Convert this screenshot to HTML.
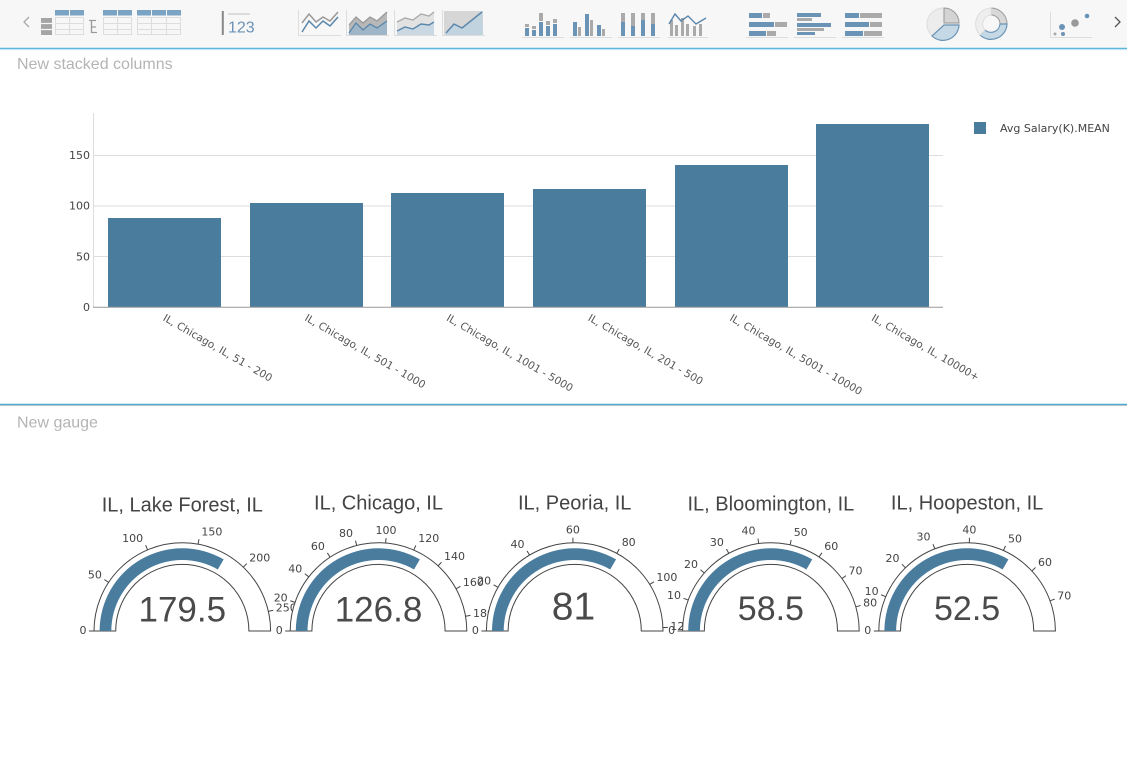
<!DOCTYPE html>
<html><head><meta charset="utf-8">
<style>
html,body{margin:0;padding:0;background:#fff;width:1127px;height:757px;overflow:hidden}
svg{display:block}
.tk{font-family:"DejaVu Sans","Liberation Sans",sans-serif;font-size:11px;fill:#444}
.xl{font-family:"DejaVu Sans","Liberation Sans",sans-serif;font-size:10.5px;fill:#555}
.gt{font-family:"Liberation Sans",sans-serif;font-size:20px;fill:#444;text-anchor:middle}
.gn{font-family:"Liberation Sans",sans-serif;fill:#4a4a4a;text-anchor:middle}
.sec{font-family:"Liberation Sans",sans-serif;font-size:16px;fill:#b4b4b4}
.bg{fill:#fff;stroke:#444;stroke-width:1}
.bar{fill:#4a7c9e}
.tl{stroke:#444;stroke-width:1}
</style></head><body>
<svg width="1127" height="757" viewBox="0 0 1127 757" xmlns="http://www.w3.org/2000/svg">
<rect x="0" y="0" width="1127" height="757" fill="#fff"/>

<!-- ===== Toolbar ===== -->
<rect x="0" y="0" width="1127" height="48" fill="#f7f7f7"/>
<line x1="0" y1="48.5" x2="1127" y2="48.5" stroke="#5fb5dc" stroke-width="1.5"/>
<line x1="0" y1="50" x2="1127" y2="50" stroke="#e3f4fb" stroke-width="1"/>

<polyline points="29,17 24,22 29,27" fill="none" stroke="#aaa" stroke-width="1.3"/>

<!-- table icon 1 -->
<rect x="41" y="18" width="11" height="17" fill="#a5a5a5"/>
<line x1="41" y1="23.5" x2="52" y2="23.5" stroke="#f7f7f7" stroke-width="1.2"/>
<line x1="41" y1="29.5" x2="52" y2="29.5" stroke="#f7f7f7" stroke-width="1.2"/>
<rect x="55" y="10" width="29" height="5.5" fill="#7ba4c4"/>
<line x1="69.5" y1="10" x2="69.5" y2="15.5" stroke="#f7f7f7"/>
<rect x="55.5" y="17.5" width="28" height="17" fill="none" stroke="#ddd"/>
<line x1="55" y1="23.5" x2="84" y2="23.5" stroke="#ddd"/>
<line x1="55" y1="29.5" x2="84" y2="29.5" stroke="#ddd"/>
<line x1="69.5" y1="17" x2="69.5" y2="35" stroke="#ddd"/>

<!-- table icon 2 -->
<line x1="91.5" y1="20" x2="91.5" y2="33" stroke="#999" stroke-width="1.3"/>
<line x1="89" y1="20.5" x2="96" y2="20.5" stroke="#999" stroke-width="1.2"/>
<line x1="91" y1="27" x2="96" y2="27" stroke="#999" stroke-width="1.2"/>
<line x1="91" y1="32.5" x2="97" y2="32.5" stroke="#999" stroke-width="1.2"/>
<rect x="103" y="10" width="29" height="5.5" fill="#7ba4c4"/>
<line x1="117.5" y1="10" x2="117.5" y2="15.5" stroke="#f7f7f7"/>
<rect x="103.5" y="17.5" width="28" height="17" fill="none" stroke="#ddd"/>
<line x1="103" y1="23.5" x2="132" y2="23.5" stroke="#ddd"/>
<line x1="103" y1="29.5" x2="132" y2="29.5" stroke="#ddd"/>
<line x1="117.5" y1="17" x2="117.5" y2="35" stroke="#ddd"/>

<!-- table icon 3 -->
<rect x="137" y="10" width="44" height="5.5" fill="#7ba4c4"/>
<line x1="151.5" y1="10" x2="151.5" y2="15.5" stroke="#f7f7f7"/>
<line x1="166.5" y1="10" x2="166.5" y2="15.5" stroke="#f7f7f7"/>
<rect x="137.5" y="17.5" width="43" height="17" fill="none" stroke="#ddd"/>
<line x1="137" y1="23.5" x2="181" y2="23.5" stroke="#ddd"/>
<line x1="137" y1="29.5" x2="181" y2="29.5" stroke="#ddd"/>
<line x1="151.5" y1="17" x2="151.5" y2="35" stroke="#ddd"/>
<line x1="166.5" y1="17" x2="166.5" y2="35" stroke="#ddd"/>

<!-- 123 -->
<line x1="222.8" y1="11" x2="222.8" y2="35" stroke="#888" stroke-width="2"/>
<line x1="228" y1="14" x2="250" y2="14" stroke="#ccc" stroke-width="1.2"/>
<text x="228" y="32.5" font-family="Liberation Sans,sans-serif" font-size="16" fill="#6b93b5">123</text>

<!-- line icons -->
<g fill="none">
<line x1="298.5" y1="10" x2="298.5" y2="36" stroke="#ddd"/>
<line x1="298" y1="35.5" x2="341" y2="35.5" stroke="#ddd"/>
<polyline points="302,23 309,14 316,22 323,17 330,21 338,12" stroke="#999" stroke-width="1.5"/>
<polyline points="302,32 309,21 316,28 323,21 330,26 338,17" stroke="#5b87ab" stroke-width="1.5"/>

<line x1="346.5" y1="10" x2="346.5" y2="36" stroke="#ddd"/>
<line x1="346" y1="35.5" x2="389" y2="35.5" stroke="#ddd"/>
</g>
<polygon points="349,25 356,17 363,23 370,17 377,21 387,12 387,35 349,35" fill="#b8b8b8"/>
<polygon points="349,33 356,23 363,30 370,24 377,28 387,21 387,35 349,35" fill="#9fb6c8"/>
<polyline points="349,33 356,23 363,30 370,24 377,28 387,21" fill="none" stroke="#5b87ab" stroke-width="1.3"/>
<polyline points="349,25 356,17 363,23 370,17 377,21 387,12" fill="none" stroke="#999" stroke-width="1.3"/>

<line x1="394.5" y1="10" x2="394.5" y2="36" stroke="#ddd"/>
<line x1="394" y1="35.5" x2="437" y2="35.5" stroke="#ddd"/>
<polygon points="397,22 405,18 413,20 421,14 429,16 434,12 434,35 397,35" fill="#e2e2e2"/>
<polygon points="397,31 405,27 413,29 421,24 429,25 434,22 434,35 397,35" fill="#c9d8e3"/>
<polyline points="397,22 405,18 413,20 421,14 429,16 434,12" fill="none" stroke="#aaa" stroke-width="1.4"/>
<polyline points="397,31 405,27 413,29 421,24 429,25 434,22" fill="none" stroke="#5b87ab" stroke-width="1.4"/>

<line x1="442.5" y1="10" x2="442.5" y2="36" stroke="#ddd"/>
<line x1="442" y1="35.5" x2="485" y2="35.5" stroke="#ddd"/>
<rect x="444" y="11" width="39" height="24" fill="#d6d6d6"/>
<polygon points="446,33 454,24 462,28 472,20 482,12 483,35 446,35" fill="#c2d3e0"/>
<polyline points="446,33 454,24 462,28 472,20 482,12" fill="none" stroke="#5b87ab" stroke-width="1.5"/>

<!-- bar icons -->
<g>
<line x1="522" y1="37.5" x2="564" y2="37.5" stroke="#ddd"/>
<rect x="525" y="28" width="4" height="8" fill="#6b93b5"/><rect x="525" y="24" width="4" height="3" fill="#aaa"/>
<rect x="532" y="30" width="4" height="6" fill="#6b93b5"/><rect x="532" y="26" width="4" height="3" fill="#aaa"/>
<rect x="539" y="22" width="4" height="14" fill="#6b93b5"/><rect x="539" y="13" width="4" height="8" fill="#aaa"/>
<rect x="546" y="26" width="4" height="10" fill="#6b93b5"/><rect x="546" y="21" width="4" height="4" fill="#aaa"/>
<rect x="553" y="24" width="4" height="12" fill="#6b93b5"/><rect x="553" y="19" width="4" height="4" fill="#aaa"/>

<line x1="570" y1="37.5" x2="612" y2="37.5" stroke="#ddd"/>
<rect x="573" y="22" width="4" height="14" fill="#6b93b5"/><rect x="578" y="27" width="3" height="9" fill="#aaa"/>
<rect x="585" y="14" width="4" height="22" fill="#6b93b5"/><rect x="590" y="20" width="3" height="16" fill="#aaa"/>
<rect x="597" y="25" width="4" height="11" fill="#6b93b5"/><rect x="602" y="29" width="3" height="7" fill="#aaa"/>

<line x1="618" y1="37.5" x2="660" y2="37.5" stroke="#ddd"/>
<rect x="621" y="13" width="4" height="23" fill="#aaa"/><rect x="621" y="22" width="4" height="14" fill="#6b93b5"/>
<rect x="631" y="13" width="4" height="23" fill="#aaa"/><rect x="631" y="26" width="4" height="10" fill="#6b93b5"/>
<rect x="641" y="13" width="4" height="23" fill="#aaa"/><rect x="641" y="20" width="4" height="16" fill="#6b93b5"/>
<rect x="651" y="13" width="4" height="23" fill="#aaa"/><rect x="651" y="24" width="4" height="12" fill="#6b93b5"/>

<line x1="668" y1="37.5" x2="708" y2="37.5" stroke="#ddd"/>
<rect x="670" y="20" width="3" height="16" fill="#aaa"/><rect x="675" y="25" width="3" height="11" fill="#aaa"/>
<rect x="681" y="18" width="3" height="18" fill="#aaa"/><rect x="686" y="24" width="3" height="12" fill="#aaa"/>
<rect x="693" y="26" width="3" height="10" fill="#aaa"/><rect x="699" y="24" width="3" height="12" fill="#aaa"/>
<polyline points="669,24 675,14 681,21 688,16 696,24 706,18" fill="none" stroke="#5b87ab" stroke-width="1.4"/>
</g>

<!-- hbar icons -->
<g>
<line x1="746" y1="37.5" x2="788" y2="37.5" stroke="#ddd"/>
<rect x="749" y="13" width="13" height="5" fill="#6b93b5"/><rect x="763" y="13" width="7" height="5" fill="#aaa"/>
<rect x="749" y="22" width="25" height="5" fill="#6b93b5"/><rect x="775" y="22" width="12" height="5" fill="#aaa"/>
<rect x="749" y="31" width="17" height="5" fill="#6b93b5"/><rect x="767" y="31" width="9" height="5" fill="#aaa"/>

<line x1="794" y1="37.5" x2="836" y2="37.5" stroke="#ddd"/>
<rect x="797" y="13" width="24" height="4" fill="#6b93b5"/><rect x="797" y="18" width="15" height="3" fill="#aaa"/>
<rect x="797" y="23" width="34" height="4" fill="#6b93b5"/><rect x="797" y="28" width="27" height="3" fill="#aaa"/>
<rect x="797" y="32" width="18" height="3" fill="#6b93b5"/>

<line x1="842" y1="37.5" x2="884" y2="37.5" stroke="#ddd"/>
<rect x="845" y="13" width="14" height="5" fill="#6b93b5"/><rect x="860" y="13" width="22" height="5" fill="#aaa"/>
<rect x="845" y="22" width="24" height="5" fill="#6b93b5"/><rect x="870" y="22" width="12" height="5" fill="#aaa"/>
<rect x="845" y="31" width="18" height="5" fill="#6b93b5"/><rect x="864" y="31" width="18" height="5" fill="#aaa"/>
</g>

<!-- pie -->
<circle cx="943" cy="24" r="16" fill="#ececec" stroke="#ddd"/>
<path d="M944,23 L944,8 A15,15 0 0 1 959,23 Z" fill="#d4d4d4" stroke="#999" stroke-width="1"/>
<path d="M944,25 L959,25 A16,16 0 0 1 932,36 Z" fill="#c5d8e6" stroke="#6b93b5" stroke-width="1.2"/>
<!-- donut -->
<path d="M991,8 A16,16 0 0 1 1007,24 L1000,24 A9,9 0 0 0 991,15 Z" fill="#d8d8d8" stroke="#999"/>
<path d="M1007,24 A16,16 0 0 1 980,35 L985,30 A9,9 0 0 0 1000,24 Z" fill="#c5d8e6" stroke="#6b93b5" stroke-width="1.2"/>
<path d="M980,35 A16,16 0 0 1 991,8 L991,15 A9,9 0 0 0 985,30 Z" fill="#eee" stroke="#ddd"/>
<!-- scatter -->
<line x1="1050" y1="37.5" x2="1092" y2="37.5" stroke="#ddd"/>
<line x1="1050.5" y1="12" x2="1050.5" y2="38" stroke="#ddd"/>
<circle cx="1055" cy="34" r="1.5" fill="#aaa"/>
<circle cx="1062" cy="27" r="3" fill="#6b93b5"/>
<circle cx="1063" cy="34" r="2" fill="#6b93b5"/>
<circle cx="1075" cy="23" r="3.8" fill="#999"/>
<circle cx="1087" cy="16" r="2.3" fill="#6b93b5"/>
<polyline points="1115,17 1120,22 1115,27" fill="none" stroke="#555" stroke-width="1.3"/>

<!-- ===== Column chart ===== -->
<text class="sec" x="17" y="69">New stacked columns</text>

<line x1="93" y1="155.5" x2="943" y2="155.5" stroke="#ddd"/>
<line x1="93" y1="206" x2="943" y2="206" stroke="#ddd"/>
<line x1="93" y1="256.5" x2="943" y2="256.5" stroke="#ddd"/>
<line x1="93.5" y1="113" x2="93.5" y2="307" stroke="#ddd"/>

<rect class="bar" x="108" y="218" width="113" height="89"/>
<rect class="bar" x="250" y="203" width="113" height="104"/>
<rect class="bar" x="391" y="193" width="113" height="114"/>
<rect class="bar" x="533" y="189" width="113" height="118"/>
<rect class="bar" x="675" y="165" width="113" height="142"/>
<rect class="bar" x="816" y="124" width="113" height="183"/>

<line x1="93" y1="307.3" x2="943" y2="307.3" stroke="#999"/>

<text class="tk" x="90" y="159" text-anchor="end">150</text>
<text class="tk" x="90" y="209.7" text-anchor="end">100</text>
<text class="tk" x="90" y="260.3" text-anchor="end">50</text>
<text class="tk" x="90" y="311" text-anchor="end">0</text>

<text class="xl" transform="translate(162.3,320) rotate(30)">IL, Chicago, IL, 51 - 200</text>
<text class="xl" transform="translate(304,320) rotate(30)">IL, Chicago, IL, 501 - 1000</text>
<text class="xl" transform="translate(445.7,320) rotate(30)">IL, Chicago, IL, 1001 - 5000</text>
<text class="xl" transform="translate(587.3,320) rotate(30)">IL, Chicago, IL, 201 - 500</text>
<text class="xl" transform="translate(729,320) rotate(30)">IL, Chicago, IL, 5001 - 10000</text>
<text class="xl" transform="translate(870.7,320) rotate(30)">IL, Chicago, IL, 10000+</text>

<rect class="bar" x="974" y="122" width="12" height="12"/>
<text class="tk" x="1000" y="132">Avg Salary(K).MEAN</text>

<!-- separator -->
<line x1="0" y1="403.5" x2="1127" y2="403.5" stroke="#c9ecf7"/>
<line x1="0" y1="404.5" x2="1127" y2="404.5" stroke="#4fa9d3"/>
<line x1="0" y1="405.5" x2="1127" y2="405.5" stroke="#b8c4cc"/>

<text class="sec" x="17" y="427.5">New gauge</text>

<!-- ===== Gauge 1 ===== -->
<g>
<path class="bg" d="M94,631 A88.3,88.3 0 0 1 270.6,631 L248.9,631 A66.6,66.6 0 0 0 115.7,631 Z"/>
<path class="bar" d="M99.6,631 A82.7,82.7 0 0 1 223.65,559.38 L217.8,569.51 A71,71 0 0 0 111.3,631 Z"/>
<g class="tl">
<line x1="94" y1="631" x2="89" y2="631"/>
<line x1="108.6" y1="582.36" x2="104.43" y2="579.6"/>
<line x1="147.58" y1="549.81" x2="145.61" y2="545.21"/>
<line x1="198.06" y1="544.12" x2="198.95" y2="539.2"/>
<line x1="243.3" y1="567.16" x2="246.76" y2="563.54"/>
<line x1="268.38" y1="611.34" x2="273.26" y2="610.22"/>
</g>
<text class="tk" x="86.5" y="634" text-anchor="end">0</text>
<text class="tk" x="101.9" y="578.7" text-anchor="end">50</text>
<text class="tk" x="143.1" y="541.8" text-anchor="end">100</text>
<text class="tk" x="201.4" y="535.3">150</text>
<text class="tk" x="249.3" y="561.5">200</text>
<text class="tk" x="275.8" y="611.7">250</text>
<text class="gn" x="182.3" y="621.5" font-size="35">179.5</text>
<text class="gt" x="182.3" y="511.5">IL, Lake Forest, IL</text>
</g>

<!-- ===== Gauge 2 ===== -->
<g>
<path class="bg" d="M290.2,631 A88.3,88.3 0 0 1 466.8,631 L445.1,631 A66.6,66.6 0 0 0 311.9,631 Z"/>
<path class="bar" d="M295.8,631 A82.7,82.7 0 0 1 419.85,559.38 L414,569.51 A71,71 0 0 0 307.5,631 Z"/>
<g class="tl">
<line x1="290.2" y1="631" x2="285.2" y2="631"/>
<line x1="294.98" y1="602.36" x2="290.25" y2="600.73"/>
<line x1="308.79" y1="576.81" x2="304.84" y2="573.74"/>
<line x1="330.12" y1="557.13" x2="327.38" y2="552.95"/>
<line x1="356.71" y1="545.44" x2="355.47" y2="540.59"/>
<line x1="385.64" y1="542.99" x2="386.05" y2="538.01"/>
<line x1="413.79" y1="550.06" x2="415.79" y2="545.48"/>
<line x1="438.13" y1="565.88" x2="441.51" y2="562.19"/>
<line x1="456.05" y1="588.76" x2="460.44" y2="586.37"/>
<line x1="465.55" y1="616.2" x2="470.48" y2="615.36"/>
</g>
<text class="tk" x="282.7" y="634" text-anchor="end">0</text>
<text class="tk" x="287.7" y="601.5" text-anchor="end">20</text>
<text class="tk" x="302.3" y="572.4" text-anchor="end">40</text>
<text class="tk" x="324.9" y="550.1" text-anchor="end">60</text>
<text class="tk" x="353" y="536.8" text-anchor="end">80</text>
<text class="tk" x="386" y="534" text-anchor="middle">100</text>
<text class="tk" x="418.3" y="542.1">120</text>
<text class="tk" x="444" y="560">140</text>
<text class="tk" x="462.9" y="586">160</text>
<text class="tk" x="473" y="617.2">180</text>
<text class="gn" x="378.5" y="621.5" font-size="35">126.8</text>
<text class="gt" x="378.5" y="509.5">IL, Chicago, IL</text>
</g>

<!-- ===== Gauge 3 ===== -->
<g>
<path class="bg" d="M486.4,631 A88.3,88.3 0 0 1 663,631 L641.3,631 A66.6,66.6 0 0 0 508.1,631 Z"/>
<path class="bar" d="M492,631 A82.7,82.7 0 0 1 616.05,559.38 L610.2,569.51 A71,71 0 0 0 503.7,631 Z"/>
<g class="tl">
<line x1="486.4" y1="631" x2="481.4" y2="631"/>
<line x1="497.95" y1="587.34" x2="493.6" y2="584.87"/>
<line x1="529.56" y1="555.11" x2="527.01" y2="550.82"/>
<line x1="572.99" y1="542.72" x2="572.89" y2="537.72"/>
<line x1="616.86" y1="553.42" x2="619.25" y2="549.03"/>
<line x1="649.7" y1="584.4" x2="653.95" y2="581.77"/>
<line x1="662.93" y1="627.58" x2="667.93" y2="627.39"/>
</g>
<text class="tk" x="478.9" y="634" text-anchor="end">0</text>
<text class="tk" x="491.1" y="584.4" text-anchor="end">20</text>
<text class="tk" x="524.5" y="547.8" text-anchor="end">40</text>
<text class="tk" x="572.9" y="533.7" text-anchor="middle">60</text>
<text class="tk" x="621.7" y="545.9">80</text>
<text class="tk" x="656.4" y="581.1">100</text>
<text class="tk" x="670.4" y="630.1">120</text>
<text class="gn" x="573.5" y="619.3" font-size="39">81</text>
<text class="gt" x="574.7" y="509.5">IL, Peoria, IL</text>
</g>

<!-- ===== Gauge 4 ===== -->
<g>
<path class="bg" d="M682.6,631 A88.3,88.3 0 0 1 859.2,631 L837.5,631 A66.6,66.6 0 0 0 704.3,631 Z"/>
<path class="bar" d="M688.2,631 A82.7,82.7 0 0 1 812.25,559.38 L806.4,569.51 A71,71 0 0 0 699.9,631 Z"/>
<g class="tl">
<line x1="682.6" y1="631" x2="677.6" y2="631"/>
<line x1="688.2" y1="600.06" x2="683.52" y2="598.31"/>
<line x1="704.28" y1="573.04" x2="700.51" y2="569.76"/>
<line x1="728.82" y1="553.38" x2="726.43" y2="548.98"/>
<line x1="758.69" y1="543.55" x2="758" y2="538.6"/>
<line x1="790.1" y1="544.82" x2="791.18" y2="539.94"/>
<line x1="819.09" y1="557.01" x2="821.82" y2="552.82"/>
<line x1="841.96" y1="578.59" x2="845.99" y2="575.63"/>
<line x1="855.82" y1="606.81" x2="860.63" y2="605.44"/>
</g>
<text class="tk" x="675.1" y="634" text-anchor="end">0</text>
<text class="tk" x="681" y="598.9" text-anchor="end">10</text>
<text class="tk" x="698" y="568.2" text-anchor="end">20</text>
<text class="tk" x="723.9" y="545.8" text-anchor="end">30</text>
<text class="tk" x="755.5" y="534.7" text-anchor="end">40</text>
<text class="tk" x="793.7" y="536.1">50</text>
<text class="tk" x="824.3" y="550">60</text>
<text class="tk" x="848.5" y="574.5">70</text>
<text class="tk" x="863.1" y="606.5">80</text>
<text class="gn" x="770.9" y="620" font-size="34">58.5</text>
<text class="gt" x="770.9" y="510.5">IL, Bloomington, IL</text>
</g>

<!-- ===== Gauge 5 ===== -->
<g>
<path class="bg" d="M878.8,631 A88.3,88.3 0 0 1 1055.4,631 L1033.7,631 A66.6,66.6 0 0 0 900.5,631 Z"/>
<path class="bar" d="M884.4,631 A82.7,82.7 0 0 1 1008.45,559.38 L1002.6,569.51 A71,71 0 0 0 896.1,631 Z"/>
<g class="tl">
<line x1="878.8" y1="631" x2="873.8" y2="631"/>
<line x1="885.73" y1="596.7" x2="881.12" y2="594.75"/>
<line x1="905.45" y1="567.79" x2="901.96" y2="564.21"/>
<line x1="934.84" y1="548.8" x2="933.02" y2="544.15"/>
<line x1="969.31" y1="542.73" x2="969.43" y2="537.73"/>
<line x1="1003.43" y1="550.51" x2="1005.48" y2="545.96"/>
<line x1="1031.83" y1="570.95" x2="1035.5" y2="567.55"/>
<line x1="1050.08" y1="600.8" x2="1054.77" y2="599.09"/>
</g>
<text class="tk" x="871.3" y="634" text-anchor="end">0</text>
<text class="tk" x="878.6" y="595" text-anchor="end">10</text>
<text class="tk" x="899.5" y="562.2" text-anchor="end">20</text>
<text class="tk" x="930.5" y="540.6" text-anchor="end">30</text>
<text class="tk" x="969.4" y="533.7" text-anchor="middle">40</text>
<text class="tk" x="1008" y="542.6">50</text>
<text class="tk" x="1038" y="565.8">60</text>
<text class="tk" x="1057.3" y="599.7">70</text>
<text class="gn" x="967.1" y="620" font-size="34">52.5</text>
<text class="gt" x="967.1" y="509.5">IL, Hoopeston, IL</text>
</g>

</svg>
</body></html>
